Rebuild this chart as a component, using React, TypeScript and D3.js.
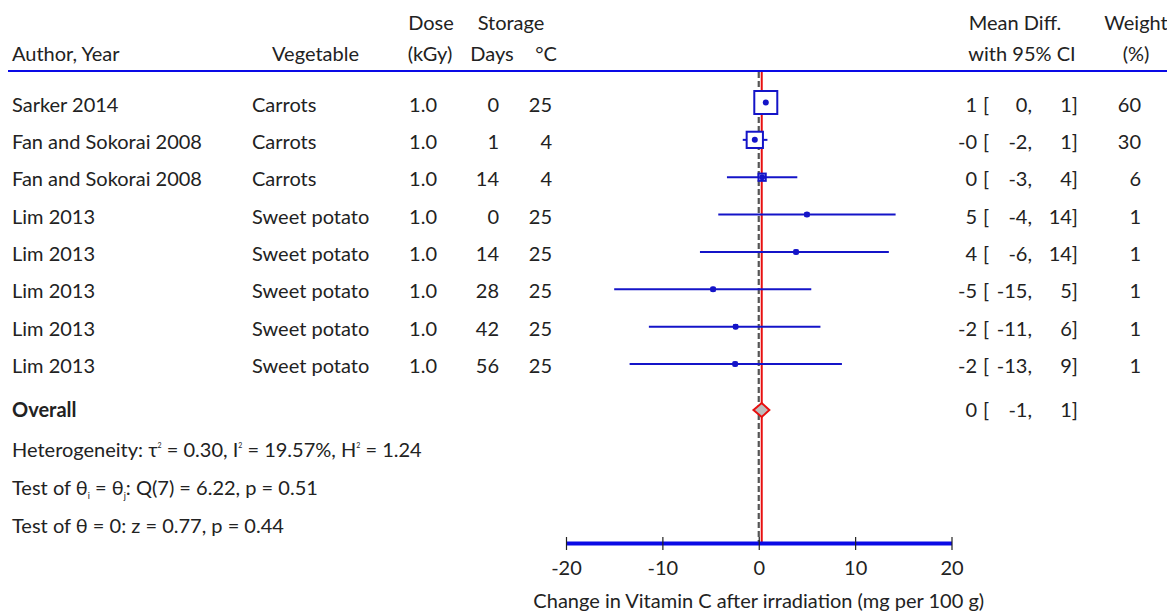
import React from "react";
import * as d3 from "d3";

const authors = ["Sarker 2014", "Fan and Sokorai 2008", "Fan and Sokorai 2008", "Lim 2013", "Lim 2013", "Lim 2013", "Lim 2013", "Lim 2013"];
const vegetables = ["Carrots", "Carrots", "Carrots", "Sweet potato", "Sweet potato", "Sweet potato", "Sweet potato", "Sweet potato"];
const doses = ["1.0", "1.0", "1.0", "1.0", "1.0", "1.0", "1.0", "1.0"];
const days = [0, 1, 14, 0, 14, 28, 42, 56];
const temps = [25, 4, 4, 25, 25, 25, 25, 25];
const means = [0.73, -0.41, 0.35, 5.0, 3.87, -4.74, -2.4, -2.45];
const lowers = [0.1, -1.66, -3.3, -4.2, -6.1, -15.0, -11.4, -13.4];
const uppers = [1.3, 0.9, 4.0, 14.2, 13.5, 5.45, 6.4, 8.63];
const weights = [60, 30, 6, 1, 1, 1, 1, 1];

const overall = { mean: 0.31, lower: -0.55, upper: 1.1 };
const xTicks = [-20, -10, 0, 10, 20];

const FONT = "Lato, 'Open Sans', sans-serif";
const FS = "20px";
const TEXT = "#222";
const BLUE = "#1414c8";

const ForestPlot = () => {
  const svgRef = React.useRef<SVGSVGElement | null>(null);

  React.useEffect(() => {
    drawChart();
  }, []);

  const drawChart = () => {
    if (!svgRef.current) return;
    const width = 1167;
    const height = 612;

    const x = d3.scaleLinear().domain([-20, 20]).range([566, 951.5]);
    const y = d3.scalePoint<number>().domain(d3.range(authors.length)).range([102.5, 364]);
    const boxSize = d3.scaleSqrt().domain([0, 60]).range([0, 23]);
    const yOverall = 410;
    const axisY = 543;
    const fmt = (v: number) => v.toFixed(0);

    const svg = d3.select(svgRef.current);
    svg.selectAll("*").remove();
    svg.attr("width", width).attr("height", height)
      .style("font-family", FONT).style("font-size", FS);

    const txt = (g: any, xx: number, yy: number, s: string, anchor = "start") =>
      g.append("text").attr("x", xx).attr("y", yy).attr("text-anchor", anchor)
        .attr("fill", TEXT).text(s);

    // headers
    const head = svg.append("g");
    txt(head, 12, 61, "Author, Year");
    txt(head, 359, 61, "Vegetable", "end");
    txt(head, 431, 30, "Dose", "middle");
    txt(head, 430, 61, "(kGy)", "middle");
    txt(head, 511, 30, "Storage", "middle");
    txt(head, 492, 61, "Days", "middle");
    txt(head, 546, 61, "°C", "middle");
    txt(head, 1015, 30, "Mean Diff.", "middle");
    txt(head, 1022, 61, "with 95% CI", "middle");
    txt(head, 1136, 30, "Weight", "middle");
    txt(head, 1136, 61, "(%)", "middle");

    svg.append("line").attr("x1", 8).attr("x2", width).attr("y1", 71).attr("y2", 71)
      .attr("stroke", "#0a0ae6").attr("stroke-width", 2);

    // study rows text
    const rows = svg.append("g");
    authors.forEach((a, i) => {
      const by = y(i)! + 9;
      txt(rows, 12, by, a);
      txt(rows, 252, by, vegetables[i]);
      txt(rows, 437, by, doses[i], "end");
      txt(rows, 499, by, String(days[i]), "end");
      txt(rows, 552, by, String(temps[i]), "end");
      txt(rows, 977, by, fmt(means[i]), "end");
      txt(rows, 983, by, "[");
      txt(rows, 1032, by, fmt(lowers[i]) + ",", "end");
      txt(rows, 1078, by, fmt(uppers[i]) + "]", "end");
      txt(rows, 1141, by, String(weights[i]), "end");
    });

    // overall + notes
    const ob = yOverall + 7;
    txt(svg, 12, ob, "Overall").attr("font-weight", "bold");
    txt(svg, 977, ob, fmt(overall.mean), "end");
    txt(svg, 983, ob, "[");
    txt(svg, 1032, ob, fmt(overall.lower) + ",", "end");
    txt(svg, 1078, ob, fmt(overall.upper) + "]", "end");

    const het = txt(svg, 12, 457, "Heterogeneity: τ");
    het.append("tspan").attr("font-size", "7px").attr("dy", -9).text("2");
    het.append("tspan").attr("dy", 9).text(" = 0.30, I");
    het.append("tspan").attr("font-size", "7px").attr("dy", -9).text("2");
    het.append("tspan").attr("dy", 9).text(" = 19.57%, H");
    het.append("tspan").attr("font-size", "7px").attr("dy", -9).text("2");
    het.append("tspan").attr("dy", 9).text(" = 1.24");

    const q = txt(svg, 12, 495, "Test of θ");
    q.append("tspan").attr("font-size", "9px").attr("dy", 4).text("i");
    q.append("tspan").attr("dy", -4).text(" = θ");
    q.append("tspan").attr("font-size", "9px").attr("dy", 4).text("j");
    q.append("tspan").attr("dy", -4).text(": Q(7) = 6.22, p = 0.51");

    txt(svg, 12, 533, "Test of θ = 0: z = 0.77, p = 0.44");

    // reference lines
    svg.append("line").attr("x1", x(0)).attr("x2", x(0)).attr("y1", 72).attr("y2", axisY)
      .attr("stroke", "#555").attr("stroke-width", 2.2).attr("stroke-dasharray", "6,3");
    svg.append("line").attr("x1", x(overall.mean)).attr("x2", x(overall.mean)).attr("y1", 72).attr("y2", axisY)
      .attr("stroke", "#e81010").attr("stroke-width", 2);

    // CI lines, boxes, dots
    const marks = svg.append("g");
    marks.selectAll("line.ci").data(d3.range(authors.length)).join("line")
      .attr("x1", i => x(lowers[i])).attr("x2", i => x(uppers[i]))
      .attr("y1", i => y(i)!).attr("y2", i => y(i)!)
      .attr("stroke", BLUE).attr("stroke-width", 2);
    marks.selectAll("rect").data(d3.range(authors.length)).join("rect")
      .attr("x", i => x(means[i]) - boxSize(weights[i]) / 2)
      .attr("y", i => y(i)! - boxSize(weights[i]) / 2)
      .attr("width", i => boxSize(weights[i]))
      .attr("height", i => boxSize(weights[i]))
      .attr("fill", "white").attr("stroke", BLUE).attr("stroke-width", 2);
    marks.selectAll("circle").data(d3.range(authors.length)).join("circle")
      .attr("cx", i => x(means[i])).attr("cy", i => y(i)!).attr("r", 3)
      .attr("fill", BLUE);

    // overall diamond
    const dh = 7;
    svg.append("path")
      .attr("d", `M${x(overall.lower)},${yOverall} L${x(overall.mean)},${yOverall - dh} L${x(overall.upper)},${yOverall} L${x(overall.mean)},${yOverall + dh} Z`)
      .attr("fill", "#bdbdbd").attr("stroke", "#e81010").attr("stroke-width", 2);

    // axis
    const axis = svg.append("g").attr("transform", `translate(0,${axisY})`)
      .call(d3.axisBottom(x).tickValues(xTicks).tickSizeOuter(0).tickSizeInner(7).tickPadding(11).tickFormat(d3.format("d")));
    axis.select(".domain").attr("stroke", "#0a0ae6").attr("stroke-width", 4);
    axis.selectAll(".tick line").attr("y1", -6).attr("stroke", "#222").attr("stroke-width", 1.2);
    axis.selectAll(".tick text").attr("font-size", FS).attr("font-family", FONT).attr("fill", TEXT)
      .text((d: any) => String(d));
    txt(svg, x(0), 608, "Change in Vitamin C after irradiation (mg per 100 g)", "middle");
  };

  return <svg ref={svgRef} style={{ display: "block", position: "absolute", left: 0, top: 0 }}></svg>;
};

export default function App() {
  return <ForestPlot />;
}
